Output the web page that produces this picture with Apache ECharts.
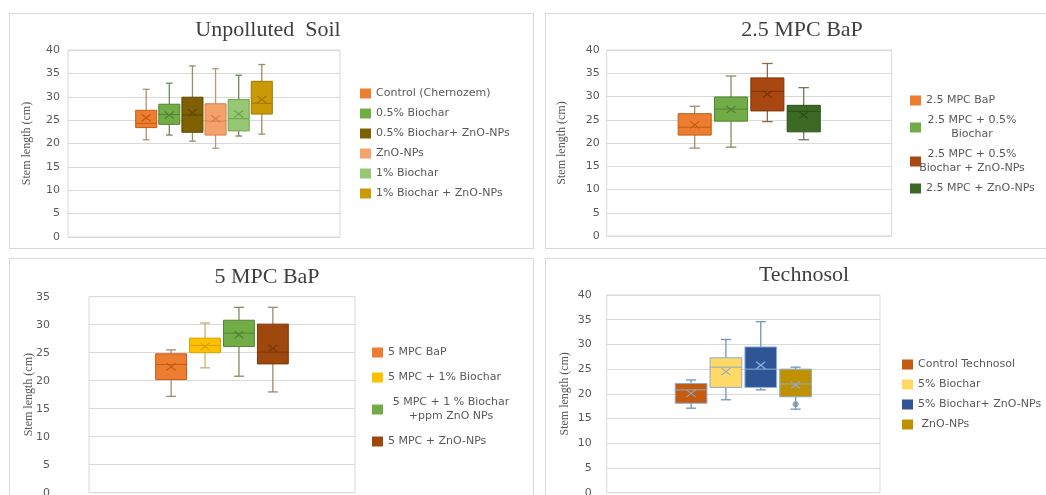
<!DOCTYPE html>
<html>
<head>
<meta charset="utf-8">
<title>Stem length</title>
<script src="https://cdn.jsdelivr.net/npm/echarts@6.0.0/dist/echarts.min.js"></script>
<style>
  html, body { margin: 0; padding: 0; background: #fff; }
  body { width: 1046px; height: 495px; position: relative; overflow: hidden; }
  .panel { position: absolute; border: 1px solid #d9d9d9; box-sizing: border-box; }
</style>
</head>
<body>
<div id="soil" class="panel" style="left:9px;top:13px;width:525px;height:236px"></div>
<div id="bap25" class="panel" style="left:545px;top:13px;width:510px;height:236px"></div>
<div id="bap5" class="panel" style="left:9px;top:258px;width:525px;height:250px"></div>
<div id="techno" class="panel" style="left:545px;top:258px;width:510px;height:250px"></div>

<script>
  // each box: min, Q1, median, Q3, max  (stem length, cm)
  const soilNames = ['Control (Chernozem)', '0.5% Biochar', '0.5% Biochar+ ZnO-NPs', 'ZnO-NPs', '1% Biochar', '1% Biochar + ZnO-NPs']
  const soilBoxes = [
    [20.8, 23.4, 24.3, 27.1, 31.6],
    [21.8, 24.1, 26.2, 28.4, 32.9],
    [20.5, 22.4, 26.1, 29.9, 36.6],
    [19.0, 21.8, 24.8, 28.5, 36.0],
    [21.6, 22.7, 25.3, 29.4, 34.6],
    [22.0, 26.3, 28.6, 33.3, 36.9]
  ]
  const soilMeans = [25.5, 26.1, 26.6, 25.3, 26.3, 29.4]

  const bap25Names = ['2.5 MPC BaP', '2.5 MPC + 0.5%\nBiochar', '2.5 MPC + 0.5%\nBiochar + ZnO-NPs', '2.5 MPC + ZnO-NPs']
  const bap25Boxes = [
    [18.9, 21.7, 23.4, 26.3, 27.9],
    [19.1, 24.7, 27.3, 29.9, 34.4],
    [24.6, 26.9, 31.1, 34.0, 37.1],
    [20.7, 22.4, 26.8, 28.1, 31.9]
  ]
  const bap25Means = [23.9, 27.2, 30.5, 26.0]

  const bap5Names = ['5 MPC BaP', '5 MPC + 1% Biochar', '5 MPC + 1 % Biochar\n+ppm ZnO NPs', '5 MPC + ZnO-NPs']
  const bap5Boxes = [
    [17.2, 20.2, 22.9, 24.8, 25.5],
    [22.3, 25.0, 26.3, 27.6, 30.3],
    [20.8, 26.1, 28.5, 30.8, 33.1],
    [18.0, 23.0, 25.1, 30.1, 33.1]
  ]
  const bap5Means = [22.5, 26.1, 28.2, 25.8]

  const technoNames = ['Control Technosol', '5% Biochar', '5% Biochar+ ZnO-NPs', ' ZnO-NPs']
  const technoBoxes = [
    [17.1, 18.1, 20.8, 22.1, 22.8],
    [18.8, 21.3, 25.4, 27.3, 31.0],
    [20.8, 21.3, 25.0, 29.5, 34.6],
    [16.9, 19.4, 22.0, 25.0, 25.4]
  ]
  const technoMeans = [20.1, 24.5, 25.8, 21.8]
  const technoInner = [null, null, null, 17.9]

  // box + whiskers + median + mean cross
  function boxRenderer(edge, whisker) {
    return function (params, api) {
      const x = api.value(0)
      const p = [1, 2, 3, 4, 5, 6].map(d => api.coord([x, api.value(d)]))
      const w = api.size([0.91, 0])[0]
      const cx = p[0][0]
      const cap = w * 0.16
      const line = (x1, y1, x2, y2, stroke, lw) => ({
        type: 'line', shape: { x1, y1, x2, y2 }, style: { stroke, lineWidth: lw }
      })
      return {
        type: 'group',
        children: [
          line(cx, p[0][1], cx, p[1][1], whisker, 1.3),
          line(cx, p[3][1], cx, p[4][1], whisker, 1.3),
          line(cx - cap, p[0][1], cx + cap, p[0][1], whisker, 1.3),
          line(cx - cap, p[4][1], cx + cap, p[4][1], whisker, 1.3),
          {
            type: 'rect',
            shape: { x: cx - w / 2, y: p[3][1], width: w, height: p[1][1] - p[3][1] },
            style: { fill: api.visual('color'), stroke: edge, lineWidth: 1 }
          },
          line(cx - w / 2, p[2][1], cx + w / 2, p[2][1], edge, 1),
          line(cx - 4.5, p[5][1] - 3.5, cx + 4.5, p[5][1] + 3.5, edge, 1.2),
          line(cx - 4.5, p[5][1] + 3.5, cx + 4.5, p[5][1] - 3.5, edge, 1.2)
        ]
      }
    }
  }

  function makeOption(cfg) {
    const n = cfg.names.length
    const span = n / 0.51   // boxes take about half of the plot width
    const series = cfg.names.map((name, i) => ({
      type: 'custom',
      name: name,
      renderItem: boxRenderer(cfg.edges[i], cfg.whiskers[i]),
      itemStyle: { color: cfg.fills[i] },
      encode: { x: 0, y: [1, 2, 3, 4, 5, 6] },
      data: [[i].concat(cfg.boxes[i], [cfg.means[i]])],
      z: 3
    }))
    if (cfg.inner) {
      series.push({
        type: 'scatter',
        symbolSize: 6,
        itemStyle: { color: '#7f8fa3' },
        data: cfg.inner.map((v, i) => v == null ? null : [i, v]).filter(Boolean),
        z: 4
      })
    }
    return {
      animation: false,
      title: {
        text: cfg.title,
        left: cfg.titleX,
        top: cfg.titleY,
        textAlign: 'center',
        textVerticalAlign: 'middle',
        padding: 0,
        textStyle: { fontFamily: 'Liberation Serif', fontSize: 22, fontWeight: 'normal', color: '#404040' }
      },
      legend: {
        orient: 'vertical',
        left: cfg.legendLeft,
        top: cfg.legendTop,
        padding: 0,
        itemGap: cfg.legendGap,
        icon: 'rect',
        itemWidth: 11,
        itemHeight: 10,
        itemStyle: { borderWidth: 0 },
        data: cfg.names,
        formatter: name => name.indexOf('\n') > -1
          ? name.split('\n').map(s => '{c|' + s + '}').join('\n')
          : name,
        textStyle: {
          color: '#595959', fontFamily: 'DejaVu Sans', fontSize: 11,
          rich: { c: { width: cfg.legendWrap || 100, align: 'center', color: '#595959', fontFamily: 'DejaVu Sans', fontSize: 11, lineHeight: 14 } }
        }
      },
      grid: {
        left: cfg.grid[0], top: cfg.grid[1], width: cfg.grid[2], height: cfg.grid[3],
        show: true, borderColor: '#d9d9d9', borderWidth: 1,
        outerBoundsMode: 'none'
      },
      xAxis: {
        type: 'value',
        min: (n - 1) / 2 - span / 2,
        max: (n - 1) / 2 + span / 2,
        show: false
      },
      yAxis: {
        type: 'value',
        min: 0,
        max: cfg.yMax,
        interval: 5,
        name: 'Stem length (cm)',
        nameLocation: 'middle',
        nameGap: cfg.nameGap,
        nameMoveOverlap: false,
        nameTextStyle: { fontFamily: 'Liberation Serif', fontSize: 12, color: '#595959' },
        axisLine: { show: false },
        axisTick: { show: false },
        axisLabel: { margin: cfg.labelMargin, color: '#595959', fontFamily: 'DejaVu Sans', fontSize: 11 },
        splitLine: { lineStyle: { color: '#d9d9d9', width: 1 } }
      },
      series: series
    }
  }

  const panels = [
    {
      el: 'soil', title: 'Unpolluted  Soil', titleX: 258, titleY: 16,
      names: soilNames, boxes: soilBoxes, means: soilMeans,
      fills: ['#ED7D31', '#70AD47', '#7F6000', '#F3A26B', '#97C774', '#C99A06'],
      edges: ['#C55A11', '#548235', '#5E4700', '#D9824A', '#6FA24C', '#A07800'],
      whiskers: ['#B0906E', '#6E8B55', '#A08A62', '#B8987A', '#6E8B55', '#A08A62'],
      grid: [58, 36, 272, 187], yMax: 40, nameGap: 35, labelMargin: 8,
      legendLeft: 350, legendTop: 74, legendGap: 9
    },
    {
      el: 'bap25', title: '2.5 MPC BaP', titleX: 256, titleY: 16,
      names: bap25Names, boxes: bap25Boxes, means: bap25Means,
      fills: ['#ED7D31', '#70AD47', '#A8470F', '#3C6A25'],
      edges: ['#C55A11', '#548235', '#7F350B', '#2B4D1A'],
      whiskers: ['#A58A70', '#7E8F62', '#8A6A50', '#6B7A58'],
      grid: [60.7, 36, 285, 186], yMax: 40, nameGap: 39, labelMargin: 7,
      legendLeft: 364, legendTop: 81, legendGap: 9, legendWrap: 92
    },
    {
      el: 'bap5', title: '5 MPC BaP', titleX: 257, titleY: 18,
      names: bap5Names, boxes: bap5Boxes, means: bap5Means,
      fills: ['#ED7D31', '#FFC000', '#70AD47', '#9E480E'],
      edges: ['#C55A11', '#D9A300', '#548235', '#7A380B'],
      whiskers: ['#A58A70', '#C8B070', '#7E8F62', '#A08570'],
      grid: [79, 37.7, 266, 196], yMax: 35, nameGap: 54, labelMargin: 39,
      legendLeft: 362, legendTop: 88, legendGap: 14, legendWrap: 126
    },
    {
      el: 'techno', title: 'Technosol', titleX: 258, titleY: 16,
      names: technoNames, boxes: technoBoxes, means: technoMeans, inner: technoInner,
      fills: ['#C55A11', '#FFD966', '#2F5597', '#BF9000'],
      edges: ['#8FAAC8', '#8FAAC8', '#8FB4DC', '#8FAAC8'],
      whiskers: ['#6F95BF', '#6F95BF', '#6F95BF', '#6F95BF'],
      grid: [60.7, 36, 273.3, 197.7], yMax: 40, nameGap: 36, labelMargin: 15,
      legendLeft: 356, legendTop: 100, legendGap: 9
    }
  ]

  panels.forEach(cfg => {
    const chart = echarts.init(document.getElementById(cfg.el))
    chart.setOption(makeOption(cfg))
  })
</script>
</body>
</html>
